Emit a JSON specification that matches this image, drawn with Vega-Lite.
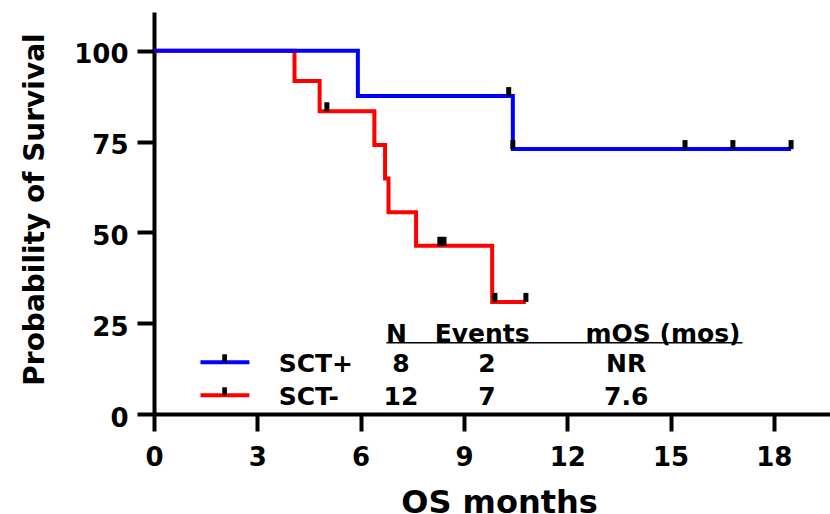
{
  "$schema": "https://vega.github.io/schema/vega-lite/v6.json",
  "width": 676,
  "height": 402,
  "autosize": {"type": "none"},
  "padding": {"left": 154, "top": 12, "right": 0, "bottom": 100},
  "background": "white",
  "config": {"view": {"stroke": null}, "font": "DejaVu Sans"},
  "datasets": {
    "curves": [
      {"group": "SCT+", "t": 0, "s": 100},
      {"group": "SCT+", "t": 5.92, "s": 87.5},
      {"group": "SCT+", "t": 10.42, "s": 72.92},
      {"group": "SCT+", "t": 18.5, "s": 72.92},
      {"group": "SCT-", "t": 0, "s": 100},
      {"group": "SCT-", "t": 4.08, "s": 91.67},
      {"group": "SCT-", "t": 4.81, "s": 83.33},
      {"group": "SCT-", "t": 6.4, "s": 74.07},
      {"group": "SCT-", "t": 6.71, "s": 64.81},
      {"group": "SCT-", "t": 6.81, "s": 55.56},
      {"group": "SCT-", "t": 7.61, "s": 46.3},
      {"group": "SCT-", "t": 9.82, "s": 30.86},
      {"group": "SCT-", "t": 10.8, "s": 30.86}
    ],
    "censors": [
      {"group": "SCT+", "t": 10.3, "s": 87.5},
      {"group": "SCT+", "t": 10.42, "s": 72.92},
      {"group": "SCT+", "t": 15.42, "s": 72.92},
      {"group": "SCT+", "t": 16.81, "s": 72.92},
      {"group": "SCT+", "t": 18.5, "s": 72.92},
      {"group": "SCT-", "t": 5.02, "s": 83.33},
      {"group": "SCT-", "t": 8.3, "s": 46.3},
      {"group": "SCT-", "t": 8.42, "s": 46.3},
      {"group": "SCT-", "t": 9.9, "s": 30.86},
      {"group": "SCT-", "t": 10.8, "s": 30.86}
    ],
    "table": [
      {"group": "SCT+", "n": "8", "events": "2", "mos": "NR"},
      {"group": "SCT-", "n": "12", "events": "7", "mos": "7.6"}
    ],
    "header": [
      {"label": "N"},
      {"label": "Events"},
      {"label": "mOS (mos)"}
    ]
  },
  "resolve": {"scale": {"y": "independent"}, "axis": {"y": "independent"}},
  "layer": [
    {
      "encoding": {
        "x": {
          "field": "t", "type": "quantitative",
          "scale": {"domain": [0, 19.63], "nice": false, "zero": false},
          "axis": {
            "values": [0, 3, 6, 9, 12, 15, 18],
            "title": "OS months",
            "titleFont": "DejaVu Sans", "titleFontSize": 32, "titleFontWeight": "bold", "titleColor": "black",
            "titleX": 345, "titleY": 98, "titleBaseline": "alphabetic", "titleAlign": "center",
            "labelFont": "DejaVu Sans", "labelFontSize": 26, "labelFontWeight": "bold", "labelColor": "black",
            "labelPadding": 13, "labelFlush": false, "labelOverlap": false,
            "tickSize": 17, "tickWidth": 4, "tickColor": "black",
            "domainColor": "black", "domainWidth": 4, "grid": false
          }
        },
        "y": {
          "field": "s", "type": "quantitative",
          "scale": {"domain": [0, 110.65], "nice": false},
          "axis": {
            "values": [0, 25, 50, 75, 100],
            "title": "Probability of Survival",
            "titleFont": "DejaVu Sans", "titleFontSize": 28, "titleFontWeight": "bold", "titleColor": "black",
            "titleAngle": -90, "titleX": -111, "titleY": 197, "titleBaseline": "alphabetic", "titleAlign": "center",
            "labelFont": "DejaVu Sans", "labelFontSize": 26, "labelFontWeight": "bold", "labelColor": "black",
            "labelPadding": 9, "labelOffset": 4, "labelFlush": false, "labelOverlap": false,
            "tickSize": 17, "tickWidth": 4, "tickColor": "black",
            "domainColor": "black", "domainWidth": 4, "grid": false
          }
        }
      },
      "layer": [
        {
          "data": {"name": "curves"},
          "transform": [{"filter": "datum.group == 'SCT-'"}],
          "mark": {"type": "line", "interpolate": "step-after", "strokeWidth": 4, "color": "#ff0000"}
        },
        {
          "data": {"name": "curves"},
          "transform": [{"filter": "datum.group == 'SCT+'"}],
          "mark": {"type": "line", "interpolate": "step-after", "strokeWidth": 4, "color": "#0000ff"}
        },
        {
          "data": {"name": "censors"},
          "mark": {"type": "tick", "orient": "vertical", "color": "black", "size": 9, "thickness": 5, "yOffset": -4.5, "opacity": 1}
        }
      ]
    },
    {
      "data": {"name": "header"},
      "layer": [
        {
          "transform": [{"filter": "datum.label == 'N'"}],
          "mark": {"type": "text", "align": "center", "baseline": "alphabetic", "font": "DejaVu Sans", "fontWeight": "bold", "fontSize": 25, "color": "black"},
          "encoding": {"x": {"datum": 7.04}, "y": {"datum": 19.9, "scale": {"domain": [0, 110.65], "nice": false}, "axis": null}, "text": {"field": "label"}}
        },
        {
          "transform": [{"filter": "datum.label == 'Events'"}],
          "mark": {"type": "text", "align": "center", "baseline": "alphabetic", "font": "DejaVu Sans", "fontWeight": "bold", "fontSize": 25, "color": "black"},
          "encoding": {"x": {"datum": 9.53}, "y": {"datum": 19.9, "scale": {"domain": [0, 110.65], "nice": false}, "axis": null}, "text": {"field": "label"}}
        },
        {
          "transform": [{"filter": "datum.label == 'mOS (mos)'"}],
          "mark": {"type": "text", "align": "center", "baseline": "alphabetic", "font": "DejaVu Sans", "fontWeight": "bold", "fontSize": 25, "color": "black"},
          "encoding": {"x": {"datum": 14.78}, "y": {"datum": 19.9, "scale": {"domain": [0, 110.65], "nice": false}, "axis": null}, "text": {"field": "label"}}
        },
        {
          "transform": [{"filter": "datum.label == 'N'"}],
          "mark": {"type": "rule", "strokeWidth": 1.5, "color": "black"},
          "encoding": {"x": {"datum": 6.75}, "x2": {"datum": 17.09}, "y": {"datum": 19.6, "scale": {"domain": [0, 110.65], "nice": false}, "axis": null}}
        }
      ]
    },
    {
      "data": {"name": "table"},
      "encoding": {
        "y": {"field": "group", "type": "nominal", "scale": {"type": "point", "domain": ["SCT+", "SCT-"], "range": [350.3, 383.3], "padding": 0}, "axis": null}
      },
      "layer": [
        {
          "mark": {"type": "rule", "strokeWidth": 4},
          "encoding": {
            "x": {"datum": 1.35}, "x2": {"datum": 2.77},
            "color": {"field": "group", "type": "nominal", "scale": {"domain": ["SCT+", "SCT-"], "range": ["#0000ff", "#ff0000"]}, "legend": null}
          }
        },
        {
          "mark": {"type": "tick", "orient": "vertical", "color": "black", "size": 8, "thickness": 4.7, "yOffset": -4, "opacity": 1},
          "encoding": {"x": {"datum": 2.05}}
        },
        {
          "mark": {"type": "text", "align": "left", "baseline": "alphabetic", "dy": 9.5, "font": "DejaVu Sans", "fontWeight": "bold", "fontSize": 25, "color": "black"},
          "encoding": {"x": {"datum": 3.62}, "text": {"field": "group"}}
        },
        {
          "mark": {"type": "text", "align": "center", "baseline": "alphabetic", "dy": 9.5, "font": "DejaVu Sans", "fontWeight": "bold", "fontSize": 25, "color": "black"},
          "encoding": {"x": {"datum": 7.17}, "text": {"field": "n"}}
        },
        {
          "mark": {"type": "text", "align": "center", "baseline": "alphabetic", "dy": 9.5, "font": "DejaVu Sans", "fontWeight": "bold", "fontSize": 25, "color": "black"},
          "encoding": {"x": {"datum": 9.67}, "text": {"field": "events"}}
        },
        {
          "mark": {"type": "text", "align": "center", "baseline": "alphabetic", "dy": 9.5, "font": "DejaVu Sans", "fontWeight": "bold", "fontSize": 25, "color": "black"},
          "encoding": {"x": {"datum": 13.71}, "text": {"field": "mos"}}
        }
      ]
    }
  ]
}
